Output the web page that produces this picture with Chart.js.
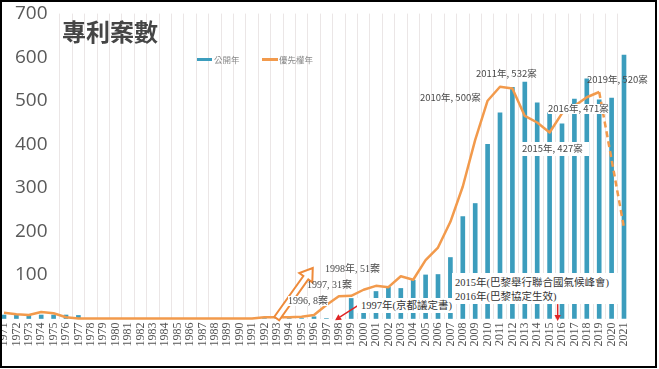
<!DOCTYPE html>
<html><head><meta charset="utf-8">
<script src="https://cdn.jsdelivr.net/npm/chart.js@4"></script>
<style>
html,body{margin:0;padding:0;background:#fff;}
#wrap{position:relative;width:659px;height:369px;overflow:hidden;background:#fff;}
#c{position:absolute;left:0;top:0;}
.frame{position:absolute;left:0;top:0;width:657px;height:368px;border:2px solid #000;box-sizing:border-box;pointer-events:none;z-index:9;}
.t{position:absolute;white-space:nowrap;line-height:1;z-index:3;}
.sans{font-family:"Noto Sans CJK TC","Noto Sans",sans-serif;font-size:9.5px;color:#4a4a4a;}
.serif{font-family:"Liberation Serif","Noto Sans CJK TC",serif;font-size:10px;color:#4a4a4a;}
.box{position:absolute;background:#fff;z-index:2;overflow:hidden;}
.ev{font-family:"Liberation Serif","Noto Sans CJK TC",serif;font-size:10.5px;color:#333;line-height:14px;white-space:nowrap;}
.title{font-family:"Noto Sans CJK TC",sans-serif;font-weight:700;font-size:24px;color:#454545;}
.leg{font-family:"Noto Sans CJK TC",sans-serif;font-size:8.5px;color:#8a8a8a;}
.sw{position:absolute;z-index:3;}
</style>
</head><body>
<div id="wrap">
  <canvas id="c" width="659" height="369"></canvas>

  <div class="t title" style="left:62px;top:19px;">專利案數</div>

  <div class="sw" style="left:197px;top:58px;width:15px;height:3px;background:#3c9dbd;"></div>
  <div class="t leg" style="left:214px;top:55px;">公開年</div>
  <div class="sw" style="left:262px;top:58px;width:16px;height:2.5px;background:#f29a4c;"></div>
  <div class="t leg" style="left:279px;top:55px;">優先權年</div>

  <div class="t serif" style="left:288px;top:296px;background:#fff;">1996, 8案</div>
  <div class="t serif" style="left:307px;top:280px;">1997, 31案</div>
  <div class="t serif" style="left:325px;top:264px;">1998年, 51案</div>

  <div class="box" style="left:357px;top:298px;width:98px;height:15px;">
    <div class="ev" style="padding-left:4px;line-height:15px;">1997年(京都議定書)</div>
  </div>
  <div class="box" style="left:452px;top:273px;width:166px;height:31px;">
    <div class="ev" style="padding:3px 0 0 3px;">2015年(巴黎舉行聯合國氣候峰會)<br>2016年(巴黎協定生效)</div>
  </div>

  <div class="t sans" style="left:420px;top:93px;">2010年, 500案</div>
  <div class="t sans" style="left:476px;top:69px;">2011年, 532案</div>
  <div class="box" style="left:519px;top:142px;width:70px;height:14px;"></div>
  <div class="t sans" style="left:522px;top:144px;">2015年, 427案</div>
  <div class="t sans" style="left:548px;top:104px;background:#fff;">2016年, 471案</div>
  <div class="t sans" style="left:587px;top:75px;">2019年, 520案</div>

  <div class="frame"></div>
</div>
<script>
// ---- data ----
const YEARS = ['1971','1972','1973','1974','1975','1976','1977','1978','1979','1980',
  '1981','1982','1983','1984','1985','1986','1987','1988','1989','1990',
  '1991','1992','1993','1994','1995','1996','1997','1998','1999','2000',
  '2001','2002','2003','2004','2005','2006','2007','2008','2009','2010',
  '2011','2012','2013','2014','2015','2016','2017','2018','2019','2020','2021'];

// 公開年 (bars)
const PUBLICATION = [8,8,7,8,8,8,7,0,0,0,
  0,0,0,0,0,0,0,0,0,0,
  0,0,0,0,0,4,0,0,46,42,
  62,72,69,88,100,101,140,234,264,400,
  472,531,543,495,472,447,504,550,502,506,605];

// 優先權年 (line)
const PRIORITY = [13,10,8,15,12,3,0,0,0,0,
  0,0,0,0,0,0,0,0,0,0,
  0,3,3,3,4,8,31,51,52,66,
  75,72,97,89,134,163,222,303,410,500,
  532,528,465,450,427,471,488,508,520,365,208];

const Y_TICKS = [0,100,200,300,400,500,600,700];
const DASH_FROM = YEARS.indexOf('2019');

// annotation arrows, in (category index, value) space
const HOLLOW_ARROW = {from:[22.0, 0], to:[24.9, 116]};
const RED_ARROWS = [
  {from:[28.5, 29], to:[26.7, -4]},
  {from:[44.65, 33], to:[44.65, -6]}
];

const TEAL = '#3c9dbd';
const ORANGE = '#f29a4c';

const arrowPlugin = {
  id: 'arrows',
  afterDatasetsDraw(chart) {
    const {ctx} = chart;
    const xs = chart.scales.x, ys = chart.scales.y;
    const P = p => [xs.getPixelForValue(p[0]), ys.getPixelForValue(p[1])];
    ctx.save();
    {
      const [x0,y0] = P(HOLLOW_ARROW.from), [x1,y1] = P(HOLLOW_ARROW.to);
      const dx = x1-x0, dy = y1-y0, L = Math.hypot(dx,dy);
      const ux = dx/L, uy = dy/L, nx = -uy, ny = ux;
      const sw = 3, hw = 8, hl = 12;
      const bx = x1-ux*hl, by = y1-uy*hl;
      ctx.beginPath();
      ctx.moveTo(x0+nx*sw, y0+ny*sw);
      ctx.lineTo(bx+nx*sw, by+ny*sw);
      ctx.lineTo(bx+nx*hw, by+ny*hw);
      ctx.lineTo(x1, y1);
      ctx.lineTo(bx-nx*hw, by-ny*hw);
      ctx.lineTo(bx-nx*sw, by-ny*sw);
      ctx.lineTo(x0-nx*sw, y0-ny*sw);
      ctx.closePath();
      ctx.fillStyle = '#fff';
      ctx.fill();
      ctx.strokeStyle = '#ee8a3a';
      ctx.lineWidth = 2;
      ctx.lineJoin = 'miter';
      ctx.stroke();
    }
    RED_ARROWS.forEach(a => {
      const [x0,y0] = P(a.from), [x1,y1] = P(a.to);
      const dx = x1-x0, dy = y1-y0, L = Math.hypot(dx,dy);
      const ux = dx/L, uy = dy/L, nx = -uy, ny = ux;
      const hl = 6, hw = 3.2;
      const bx = x1-ux*hl, by = y1-uy*hl;
      ctx.strokeStyle = '#e02424';
      ctx.fillStyle = '#e02424';
      ctx.lineWidth = 1.5;
      ctx.beginPath();
      ctx.moveTo(x0,y0); ctx.lineTo(bx,by); ctx.stroke();
      ctx.beginPath();
      ctx.moveTo(x1,y1);
      ctx.lineTo(bx+nx*hw, by+ny*hw);
      ctx.lineTo(bx-nx*hw, by-ny*hw);
      ctx.closePath(); ctx.fill();
    });
    ctx.restore();
  }
};

new Chart(document.getElementById('c'), {
  type: 'bar',
  data: {
    labels: YEARS,
    datasets: [
      {
        type: 'line', label: '優先權年', data: PRIORITY,
        borderColor: ORANGE, backgroundColor: ORANGE, borderWidth: 2.5,
        pointRadius: 0, tension: 0, order: 0, clip: false,
        borderJoinStyle: 'round', borderCapStyle: 'butt',
        segment: { borderDash: c => c.p0DataIndex >= DASH_FROM ? [6,4] : undefined }
      },
      {
        type: 'bar', label: '公開年', data: PUBLICATION,
        backgroundColor: TEAL, barThickness: 4, order: 1, clip: false
      }
    ]
  },
  options: {
    responsive: false, animation: false, devicePixelRatio: 1,
    layout: { padding: { left: 4, right: 35, top: 13.6, bottom: 0 } },
    plugins: { legend: { display: false }, tooltip: { enabled: false } },
    scales: {
      x: {
        type: 'category', offset: false,
        grid: { display: true, offset: true, drawTicks: false, lineWidth: 1,
                color: c => (c.index >= 5 ? '#ebe6e6' : 'rgba(0,0,0,0)') },
        border: { display: false },
        ticks: { autoSkip: false, minRotation: 90, maxRotation: 90, padding: 4,
                 color: '#555', font: { family: 'Liberation Serif', size: 12 } },
        afterFit(s) { s.height = 50.5; s.paddingLeft = 0; s.paddingRight = 0; }
      },
      y: {
        min: Y_TICKS[0], max: Y_TICKS[Y_TICKS.length-1],
        afterBuildTicks(s) { s.ticks = Y_TICKS.map(v => ({value: v})); },
        ticks: { mirror: true, padding: 11, color: '#595959',
                 font: { family: 'Open Sans', size: 19 },
                 callback: v => (v === 0 ? '' : v) },
        grid: { display: false, drawTicks: false },
        border: { display: false },
        afterFit(s) { s.width = 0; s.paddingTop = 0; s.paddingBottom = 0; }
      }
    }
  },
  plugins: [arrowPlugin]
});
</script>
</body></html>
